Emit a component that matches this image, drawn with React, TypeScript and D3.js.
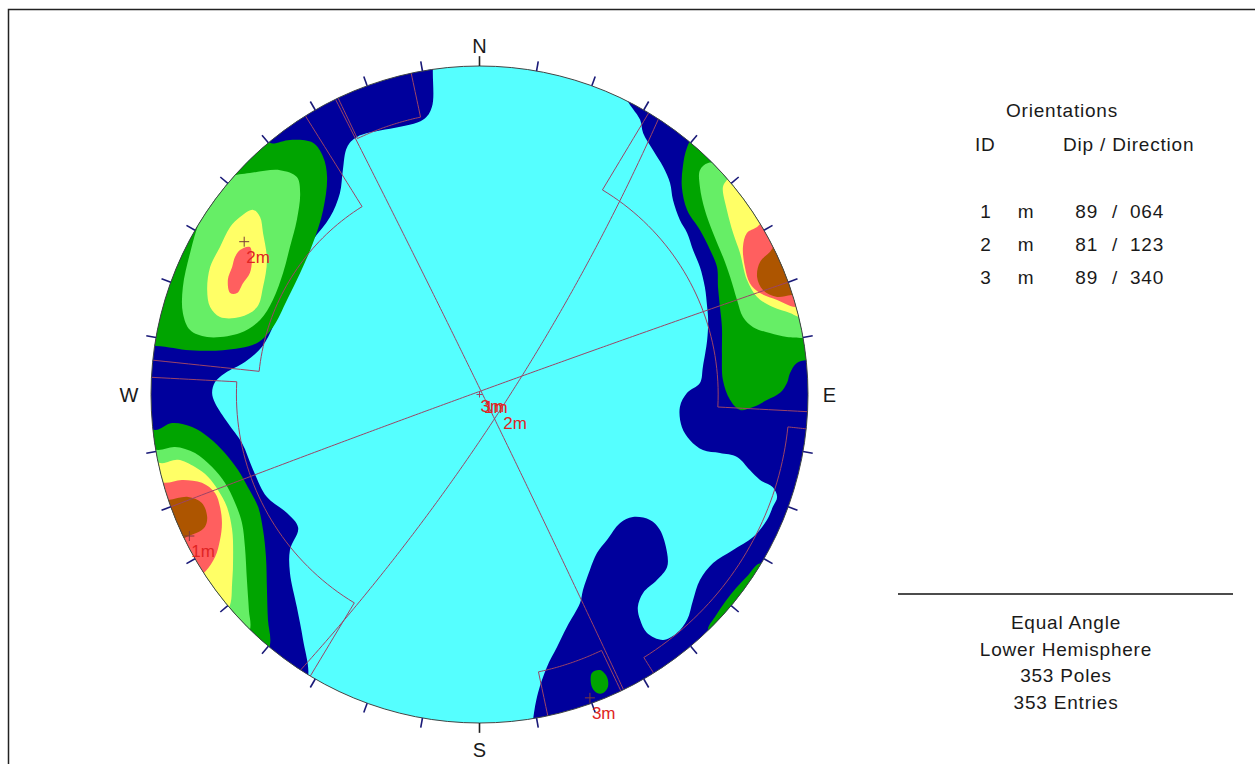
import React from "react";
import * as d3 from "d3";

const WIDTH = 1255;
const HEIGHT = 764;
const CX = 479.5;
const CY = 394.5;
const R = 328.5;
const FONT = "'Liberation Sans', Arial, sans-serif";

// mean planes (dip / dip direction)
const planeIds = [1, 2, 3];
const planeDips = [89, 81, 89];
const planeDirs = [64, 123, 340];
const planeTag = "m";

// set windows: trend range and plunge range (negative plunge wraps round)
const windowTrends = [
  [211, 273],
  [276, 328],
  [154.5, 168],
];
const windowPlunges = [
  [-18, 17],
  [-3.3, 22],
  [-8.4, 8.4],
];

const infoLines = ["Equal Angle", "Lower Hemisphere", "353 Poles", "353 Entries"];
const cardinals = [
  { label: "N", az: 0, dist: 106.2 },
  { label: "E", az: 90, dist: 106.5 },
  { label: "S", az: 180, dist: 108.2 },
  { label: "W", az: 270, dist: 106.7 },
];

// contour fill colours, lowest density first
const levelColours = ["#55ffff", "#00009c", "#00a400", "#66ee66", "#ffff66", "#ff5f5f", "#ad5500"];

// contour outlines, net units (east, north) in percent of the net radius
const navyA = [
  [-14, 108], [-14.2, 98.8], [-14.5, 87.5], [-17.2, 83.6], [-37.3, 78.4], [-40.3, 75.3],
  [-41.6, 68.3], [-42.5, 61.3], [-45.5, 54.0], [-50.7, 47.0], [-54.6, 40.9], [-58.6, 30.9],
  [-62.6, 21.2], [-66.2, 14.5], [-71.4, 9.9], [-77.5, 6.5], [-80.5, 3.8], [-81.4, 0.5],
  [-80.5, -2.6], [-76.6, -8.7], [-72.3, -14.8], [-68.9, -23.0], [-64.7, -31.2], [-58.6, -36.1],
  [-55.2, -40.6], [-57.7, -47.3], [-57.7, -54.3], [-55.6, -64.7], [-53.7, -74.7], [-52.2, -86.0],
  [-56.2, -94.5], [-130, -60], [-130, 60], [-60, 120],
];
const navyB = [
  [44.3, 101.8], [44.3, 91.2], [48.9, 83.6], [49.8, 79.6], [52.8, 74.4], [55.9, 69.3],
  [58.0, 64.4], [58.9, 59.2], [61.0, 53.1], [63.2, 49.2], [65.0, 44.0], [67.1, 38.8],
  [68.6, 32.7], [69.3, 26.6], [69.6, 22.7], [69.3, 16.6], [68.0, 8.4], [67.1, 3.5],
  [63.2, 0.5], [61.0, -3.8], [61.6, -9.9], [64.1, -13.9], [68.0, -16.9], [73.2, -17.8],
  [78.4, -19.0], [82.3, -23.0], [85.4, -26.0], [89.3, -28.2], [90.6, -31.2], [89.3, -34.2],
  [87.5, -38.2], [83.3, -43.4], [77.2, -47.3], [71.1, -51.3], [67.1, -56.5], [65.0, -62.6],
  [63.2, -68.6], [60.1, -72.6], [55.9, -74.7], [51.0, -72.6], [48.9, -68.6], [48.2, -64.7],
  [49.8, -60.4], [54.0, -56.5], [57.1, -52.5], [57.1, -48.2], [54.9, -41.2], [51.9, -38.2],
  [46.7, -37.3], [42.8, -39.1], [38.8, -44.3], [35.8, -48.2], [33.6, -53.4], [31.5, -59.5],
  [30.6, -63.5], [26.6, -70.8], [23.6, -76.9], [20.5, -83.0], [17.8, -90.9], [16.3, -99.1],
  [15, -115], [125, -80], [125, 60], [44, 118],
];
const greenNW = [
  [-65.3, 82.0], [-63.8, 76.6], [-57.7, 77.5], [-50.7, 76.6], [-47.6, 72.3], [-46.4, 66.2],
  [-47.6, 56.2], [-50.7, 46.1], [-54.6, 37.0], [-58.6, 28.8], [-62.9, 20.5], [-67.7, 15.7],
  [-78.1, 13.5], [-88.1, 13.5], [-98.5, 14.8], [-115, 14], [-115, 40], [-85, 75],
];
const lightNW = [
  [-75.9, 66.2], [-69.9, 67.4], [-60.7, 68.3], [-55.6, 66.2], [-54.6, 61.3], [-55.6, 53.1],
  [-57.7, 44.9], [-59.8, 37.0], [-62.9, 28.8], [-66.8, 22.7], [-72.9, 18.7], [-82.9, 17.5],
  [-88.1, 19.6], [-90.3, 24.8], [-90.3, 32.7], [-88.1, 43.1], [-85.1, 53.1], [-81.1, 61.3],
];
const yellowNW = [
  [-72.9, 54.0], [-68.9, 56.2], [-66.8, 54.0], [-65.9, 49.2], [-64.7, 40.9], [-65.9, 32.7],
  [-67.7, 26.6], [-72.9, 23.6], [-79.0, 23.6], [-82.0, 26.6], [-82.9, 31.8], [-82.0, 38.8],
  [-79.0, 44.9], [-75.9, 51.0],
];
const redNW = [
  [-72.9, 44.0], [-69.9, 44.9], [-69.3, 40.9], [-69.9, 37.0], [-72.0, 33.9], [-73.8, 30.9],
  [-75.9, 30.9], [-76.6, 34.9], [-75.3, 38.8], [-74.4, 41.9],
];
const greenW = [
  [-103.3, -7.8], [-98.8, -10.8], [-93.6, -8.7], [-87.5, -9.9], [-82.6, -12.9], [-77.5, -17.8],
  [-73.5, -23.0], [-70.5, -28.2], [-67.4, -34.2], [-65.9, -41.2], [-65.0, -49.5], [-64.7, -59.5],
  [-64.4, -68.6], [-63.8, -76.3], [-68, -85], [-115, -50],
];
const lightW = [
  [-103.3, -15.4], [-97.9, -16.9], [-92.7, -16.0], [-86.6, -17.8], [-81.4, -22.1], [-77.5, -26.9],
  [-74.4, -33.0], [-72.3, -39.1], [-71.4, -46.4], [-70.8, -56.5], [-70.2, -65.6], [-69.9, -71.7],
  [-75, -80], [-115, -50],
];
const yellowW = [
  [-103.3, -19.9], [-96.6, -20.9], [-91.8, -19.9], [-86.6, -22.1], [-82.6, -25.1], [-79.6, -29.1],
  [-76.9, -34.2], [-75.3, -41.2], [-75.0, -49.5], [-75.3, -57.4], [-76.3, -65.0], [-82, -70],
  [-115, -45],
];
const redW = [
  [-103.3, -26.0], [-95.7, -26.9], [-90.6, -26.0], [-84.5, -26.9], [-80.5, -30.0], [-79.0, -34.2],
  [-78.4, -39.1], [-79.0, -44.3], [-80.5, -49.5], [-83.6, -54.0], [-92, -60], [-115, -35],
];
const brownW = [
  [-103.3, -32.1], [-94.8, -32.1], [-88.7, -31.2], [-84.5, -33.0], [-82.9, -37.3], [-83.6, -40.3],
  [-85.7, -41.9], [-88.7, -43.1], [-90.6, -44.3], [-100, -50], [-115, -35],
];
const greenE = [
  [67.1, 82.0], [63.2, 75.3], [61.9, 69.3], [61.6, 63.2], [63.2, 56.2], [67.1, 50.1],
  [70.2, 44.0], [72.3, 38.8], [72.6, 32.7], [73.2, 26.6], [73.8, 20.5], [73.8, 12.6],
  [74.1, 4.4], [76.3, -1.7], [79.3, -4.7], [83.3, -3.8], [87.5, -1.7], [91.5, 0.5],
  [93.6, 3.5], [94.5, 6.5], [96.6, 9.6], [99.7, 10.5], [115, 12], [115, 80], [80, 95],
];
const lightE = [
  [67.1, 68.3], [69.6, 70.5], [75.3, 69.3], [77.8, 66.2], [90, 75], [115, 17], [98.5, 17.2],
  [93.6, 17.5], [88.4, 18.7], [83.3, 20.5], [80.2, 23.6], [78.4, 28.8], [76.3, 35.8],
  [74.1, 41.9], [71.1, 49.2], [68.6, 56.2], [67.1, 63.2],
];
const yellowE = [
  [79.3, 71.4], [75.3, 65.3], [74.1, 63.2], [75.3, 56.2], [77.2, 49.2], [79.3, 43.1],
  [81.4, 34.9], [84.5, 29.7], [89.3, 26.6], [94.5, 24.8], [97.6, 23.6], [115, 25], [95, 72],
];
const redE = [
  [88.4, 54.6], [84.5, 51.0], [81.4, 49.2], [80.2, 44.9], [80.8, 38.8], [82.3, 33.9],
  [85.4, 30.9], [90.6, 28.8], [96.3, 26.6], [112, 28], [105, 60],
];
const brownE = [
  [91.5, 47.0], [88.4, 43.4], [85.4, 40.3], [84.5, 35.8], [86.3, 31.8], [90.6, 29.7],
  [95.1, 30.3], [110, 30], [105, 50],
];
const greenSE = [
  [85.6, -51.4], [81.7, -55.1], [78.1, -58.9], [74.9, -62.9], [72.0, -67.2], [69.6, -72.1],
  [80, -78], [95, -58],
];
const greenS = [
  [34.2, -84.8], [36.7, -83.9], [38.8, -86.0], [39.1, -89.0], [37.6, -90.9], [35.8, -90.9],
  [34.2, -89.0],
];

const contours = [
  { level: 1, pts: navyA },
  { level: 1, pts: navyB },
  { level: 2, pts: greenNW },
  { level: 2, pts: greenW },
  { level: 2, pts: greenE },
  { level: 2, pts: greenSE },
  { level: 2, pts: greenS },
  { level: 3, pts: lightNW },
  { level: 3, pts: lightW },
  { level: 3, pts: lightE },
  { level: 4, pts: yellowNW },
  { level: 4, pts: yellowW },
  { level: 4, pts: yellowE },
  { level: 5, pts: redNW },
  { level: 5, pts: redW },
  { level: 5, pts: redE },
  { level: 6, pts: brownW },
  { level: 6, pts: brownE },
];

const rad = Math.PI / 180;

// equal angle, lower hemisphere: line (trend, plunge) -> net units
function lineToNet(trend: number, plunge: number): [number, number] {
  let t = trend;
  let p = plunge;
  if (p < 0) {
    t += 180;
    p = -p;
  }
  const r = 100 * Math.tan(((90 - p) / 2) * rad);
  return [r * Math.sin(t * rad), r * Math.cos(t * rad)];
}

function vecToNet(e: number, n: number, d: number): [number, number] {
  return [(100 * e) / (1 + d), (100 * n) / (1 + d)];
}

function greatCircle(dip: number, dir: number): [number, number][] {
  const s = [Math.sin((dir - 90) * rad), Math.cos((dir - 90) * rad), 0];
  const dv = [
    Math.cos(dip * rad) * Math.sin(dir * rad),
    Math.cos(dip * rad) * Math.cos(dir * rad),
    Math.sin(dip * rad),
  ];
  return d3.range(0, 180.5, 1).map((th) => {
    const c = Math.cos(th * rad);
    const sn = Math.sin(th * rad);
    return vecToNet(c * s[0] + sn * dv[0], c * s[1] + sn * dv[1], c * s[2] + sn * dv[2]);
  });
}

function windowBox(ta: number, tb: number, pa: number, pb: number): [number, number][] {
  const pts: [number, number][] = [];
  d3.range(0, 11).forEach((k) => pts.push(lineToNet(ta, pa + ((pb - pa) * k) / 10)));
  d3.range(0, 41).forEach((k) => pts.push(lineToNet(ta + ((tb - ta) * k) / 40, pb)));
  d3.range(0, 11).forEach((k) => pts.push(lineToNet(tb, pb - ((pb - pa) * k) / 10)));
  return pts;
}

function windowPieces(i: number): [number, number][][] {
  const [t1, t2] = windowTrends[i];
  const [p1, p2] = windowPlunges[i];
  const out: [number, number][][] = [];
  if (p2 > 0) out.push(windowBox(t1, t2, Math.max(0, p1), p2));
  if (p1 < 0) out.push(windowBox(t1 + 180, t2 + 180, 0, -p1));
  return out;
}

export default function App() {
  const x = d3.scaleLinear().domain([-100, 100]).range([CX - R, CX + R]);
  const y = d3.scaleLinear().domain([-100, 100]).range([CY + R, CY - R]);
  const radius = x(100) - x(0);

  const linePath = d3
    .line<[number, number]>()
    .x((d) => x(d[0]))
    .y((d) => y(d[1]));
  const fillPath = d3
    .line<[number, number]>()
    .x((d) => x(d[0]))
    .y((d) => y(d[1]))
    .curve(d3.curveCatmullRomClosed.alpha(0.5));

  const lineColour = "#9c4466";
  const labelColour = "#e02424";
  const ticks = d3.range(0, 360, 10).filter((a) => a !== 90 && a !== 270);
  const fmtDir = d3.format("03d");

  const rows = planeIds.map((id, i) => ({
    id,
    dip: planeDips[i],
    dir: planeDirs[i],
    pole: lineToNet(planeDirs[i] + 180, 90 - planeDips[i]),
    dipPt: lineToNet(planeDirs[i], planeDips[i]),
    gc: greatCircle(planeDips[i], planeDirs[i]),
  }));

  return (
    <div style={{ position: "absolute", left: 0, top: 0 }}>
      <svg width={WIDTH} height={HEIGHT} style={{ display: "block", background: "#fff" }}>
        <defs>
          <clipPath id="net">
            <circle cx={x(0)} cy={y(0)} r={radius} />
          </clipPath>
        </defs>
        <rect x={8.5} y={9.5} width={1400} height={900} fill="none" stroke="#222" strokeWidth={1.5} />

        <circle cx={x(0)} cy={y(0)} r={radius} fill={levelColours[0]} />
        <g clipPath="url(#net)">
          {contours.map((c, i) => (
            <path key={i} d={fillPath(c.pts as [number, number][]) || ""} fill={levelColours[c.level]} />
          ))}
          {windowTrends.map((_, i) =>
            windowPieces(i).map((pts, j) => (
              <path key={`w${i}-${j}`} d={linePath(pts) || ""} fill="none" stroke={lineColour} strokeWidth={1} />
            ))
          )}
          {rows.map((r) => (
            <path key={`gc${r.id}`} d={linePath(r.gc) || ""} fill="none" stroke={lineColour} strokeWidth={1} />
          ))}
        </g>
        <circle cx={x(0)} cy={y(0)} r={radius} fill="none" stroke="#444" strokeWidth={1} />

        {ticks.map((a) => {
          const s = Math.sin(a * rad);
          const c = Math.cos(a * rad);
          return (
            <line
              key={a}
              x1={x(100 * s)}
              y1={y(100 * c)}
              x2={x(103 * s)}
              y2={y(103 * c)}
              stroke={a % 180 === 0 ? "#222" : "#1a1a78"}
              strokeWidth={1.6}
            />
          );
        })}

        {cardinals.map((c) => {
          const s = Math.sin(c.az * rad);
          const co = Math.cos(c.az * rad);
          return (
            <text
              key={c.label}
              x={x(c.dist * s)}
              y={y(c.dist * co)}
              dy="0.36em"
              textAnchor="middle"
              fontFamily={FONT}
              fontSize={20}
              fill="#1a1a1a"
            >
              {c.label}
            </text>
          );
        })}

        <line x1={x(0) - 3} x2={x(0) + 3} y1={y(0)} y2={y(0)} stroke={lineColour} strokeWidth={1} />
        <line x1={x(0)} x2={x(0)} y1={y(0) - 3} y2={y(0) + 3} stroke={lineColour} strokeWidth={1} />

        {rows.map((r) => (
          <g key={`lab${r.id}`}>
            <line
              x1={x(r.pole[0]) - 5}
              x2={x(r.pole[0]) + 5}
              y1={y(r.pole[1])}
              y2={y(r.pole[1])}
              stroke="#7a3a3a"
              strokeWidth={1}
            />
            <line
              x1={x(r.pole[0])}
              x2={x(r.pole[0])}
              y1={y(r.pole[1]) - 5}
              y2={y(r.pole[1]) + 5}
              stroke="#7a3a3a"
              strokeWidth={1}
            />
            <text x={x(r.pole[0]) + 2} y={y(r.pole[1]) + 21} fontFamily={FONT} fontSize={17} fill={labelColour}>
              {`${r.id}${planeTag}`}
            </text>
            <text x={x(r.dipPt[0]) + 2} y={y(r.dipPt[1]) + 20} fontFamily={FONT} fontSize={17} fill={labelColour}>
              {`${r.id}${planeTag}`}
            </text>
          </g>
        ))}

        <g fontFamily={FONT} fontSize={19} fill="#1a1a1a" letterSpacing={0.8}>
          <text x={1062} y={117} textAnchor="middle">Orientations</text>
          <text x={975} y={151}>ID</text>
          <text x={1063} y={151}>Dip / Direction</text>
          {rows.map((r, i) => {
            const by = 218 + i * 33;
            return (
              <g key={`row${r.id}`}>
                <text x={986} y={by} textAnchor="middle">{r.id}</text>
                <text x={1026} y={by} textAnchor="middle">{planeTag}</text>
                <text x={1098} y={by} textAnchor="end">{r.dip}</text>
                <text x={1115} y={by} textAnchor="middle">/</text>
                <text x={1130} y={by}>{fmtDir(r.dir)}</text>
              </g>
            );
          })}
          <line x1={898} x2={1233} y1={594} y2={594} stroke="#111" strokeWidth={1.5} />
          {infoLines.map((t, i) => (
            <text key={t} x={1066} y={629 + i * 26.7} textAnchor="middle">
              {t}
            </text>
          ))}
        </g>
      </svg>
    </div>
  );
}
